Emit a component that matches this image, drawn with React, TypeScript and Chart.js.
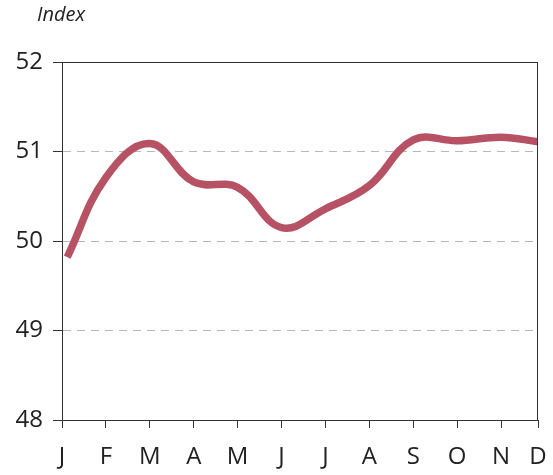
import React, { useEffect, useRef } from "react";
import { Chart, registerables } from "chart.js";

Chart.register(...registerables);

const MONTHS = ["J", "F", "M", "A", "M", "J", "J", "A", "S", "O", "N", "D"];
const MONTH_POS = [0.12, 1, 2, 3, 4, 5, 6, 7, 8, 9, 10, 10.84];
const INDEX_VALUES = [49.82, 50.71, 51.09, 50.66, 50.6, 50.15, 50.36, 50.62, 51.13, 51.12, 51.16, 51.11];
const TICK_POS = [0, 1, 2, 3, 4, 5, 6, 7, 8, 9, 10, 10.84];
const Y_MIN = 48;
const Y_MAX = 52;
const Y_LABEL = "Index";

const FONT = "'Open Sans', 'DejaVu Sans', sans-serif";
const AXIS_COLOR = "#333333";
const LINE_COLOR = "#b65264";

const framePlugin = {
  id: "frame",
  afterDraw(chart: any) {
    const { ctx, chartArea } = chart;
    ctx.save();
    ctx.strokeStyle = AXIS_COLOR;
    ctx.lineWidth = 1;
    ctx.beginPath();
    ctx.moveTo(chartArea.left - 9, Math.round(chartArea.top) + 0.5);
    ctx.lineTo(chartArea.right, Math.round(chartArea.top) + 0.5);
    ctx.moveTo(Math.round(chartArea.right) - 0.5, chartArea.top);
    ctx.lineTo(Math.round(chartArea.right) - 0.5, chartArea.bottom);
    ctx.stroke();
    ctx.fillStyle = "#222222";
    ctx.font = `italic 20px ${FONT}`;
    ctx.textBaseline = "middle";
    ctx.textAlign = "left";
    ctx.fillText(Y_LABEL, 37, 15);
    ctx.restore();
  },
};

export default function App() {
  const ref = useRef<HTMLCanvasElement | null>(null);
  useEffect(() => {
    if (!ref.current) return;
    const chart = new Chart(ref.current, {
      type: "line",
      data: {
        datasets: [
          {
            data: MONTH_POS.map((x, i) => ({ x, y: INDEX_VALUES[i] })),
            borderColor: LINE_COLOR,
            borderWidth: 7.5,
            pointRadius: 0,
            tension: 0.4,
            borderCapStyle: "butt",
            fill: false,
          },
        ],
      },
      options: {
        animation: false,
        responsive: false,
        events: [],
        layout: { padding: { top: 62, right: 15, left: 0, bottom: 0 } },
        plugins: { legend: { display: false }, tooltip: { enabled: false } },
        scales: {
          x: {
            type: "linear",
            min: 0,
            max: 10.84,
            afterBuildTicks: (scale: any) => {
              scale.ticks = TICK_POS.map((v) => ({ value: v }));
            },
            afterFit: (scale: any) => {
              scale.height = 55;
              scale.paddingLeft = 0;
              scale.paddingRight = 0;
            },
            ticks: {
              autoSkip: false,
              maxRotation: 0,
              padding: 15,
              color: "#222222",
              font: { family: FONT, size: 24 },
              callback: (_v: any, i: number) => MONTHS[i],
            },
            grid: {
              drawOnChartArea: false,
              drawTicks: true,
              tickLength: 8,
              tickColor: AXIS_COLOR,
            },
            border: { display: true, color: AXIS_COLOR, width: 1 },
          },
          y: {
            min: Y_MIN,
            max: Y_MAX,
            afterFit: (scale: any) => {
              scale.width = 62;
              scale.paddingTop = 0;
              scale.paddingBottom = 0;
            },
            ticks: {
              stepSize: 1,
              padding: 10,
              color: "#222222",
              font: { family: FONT, size: 24 },
            },
            grid: {
              color: (c: any) =>
                c.tick && (c.tick.value === Y_MIN || c.tick.value === Y_MAX) ? "rgba(0,0,0,0)" : "#b8b8b8",
              lineWidth: 1,
              tickLength: 9,
              tickColor: AXIS_COLOR,
              tickBorderDash: [],
            },
            border: { display: true, color: AXIS_COLOR, width: 1, dash: [8, 6] },
          },
        },
      },
      plugins: [framePlugin],
    });
    return () => chart.destroy();
  }, []);
  return (
    <div style={{ position: "fixed", left: 0, top: 0, width: 553, height: 475, background: "#fff" }}>
      <canvas ref={ref} width={553} height={475} />
    </div>
  );
}
